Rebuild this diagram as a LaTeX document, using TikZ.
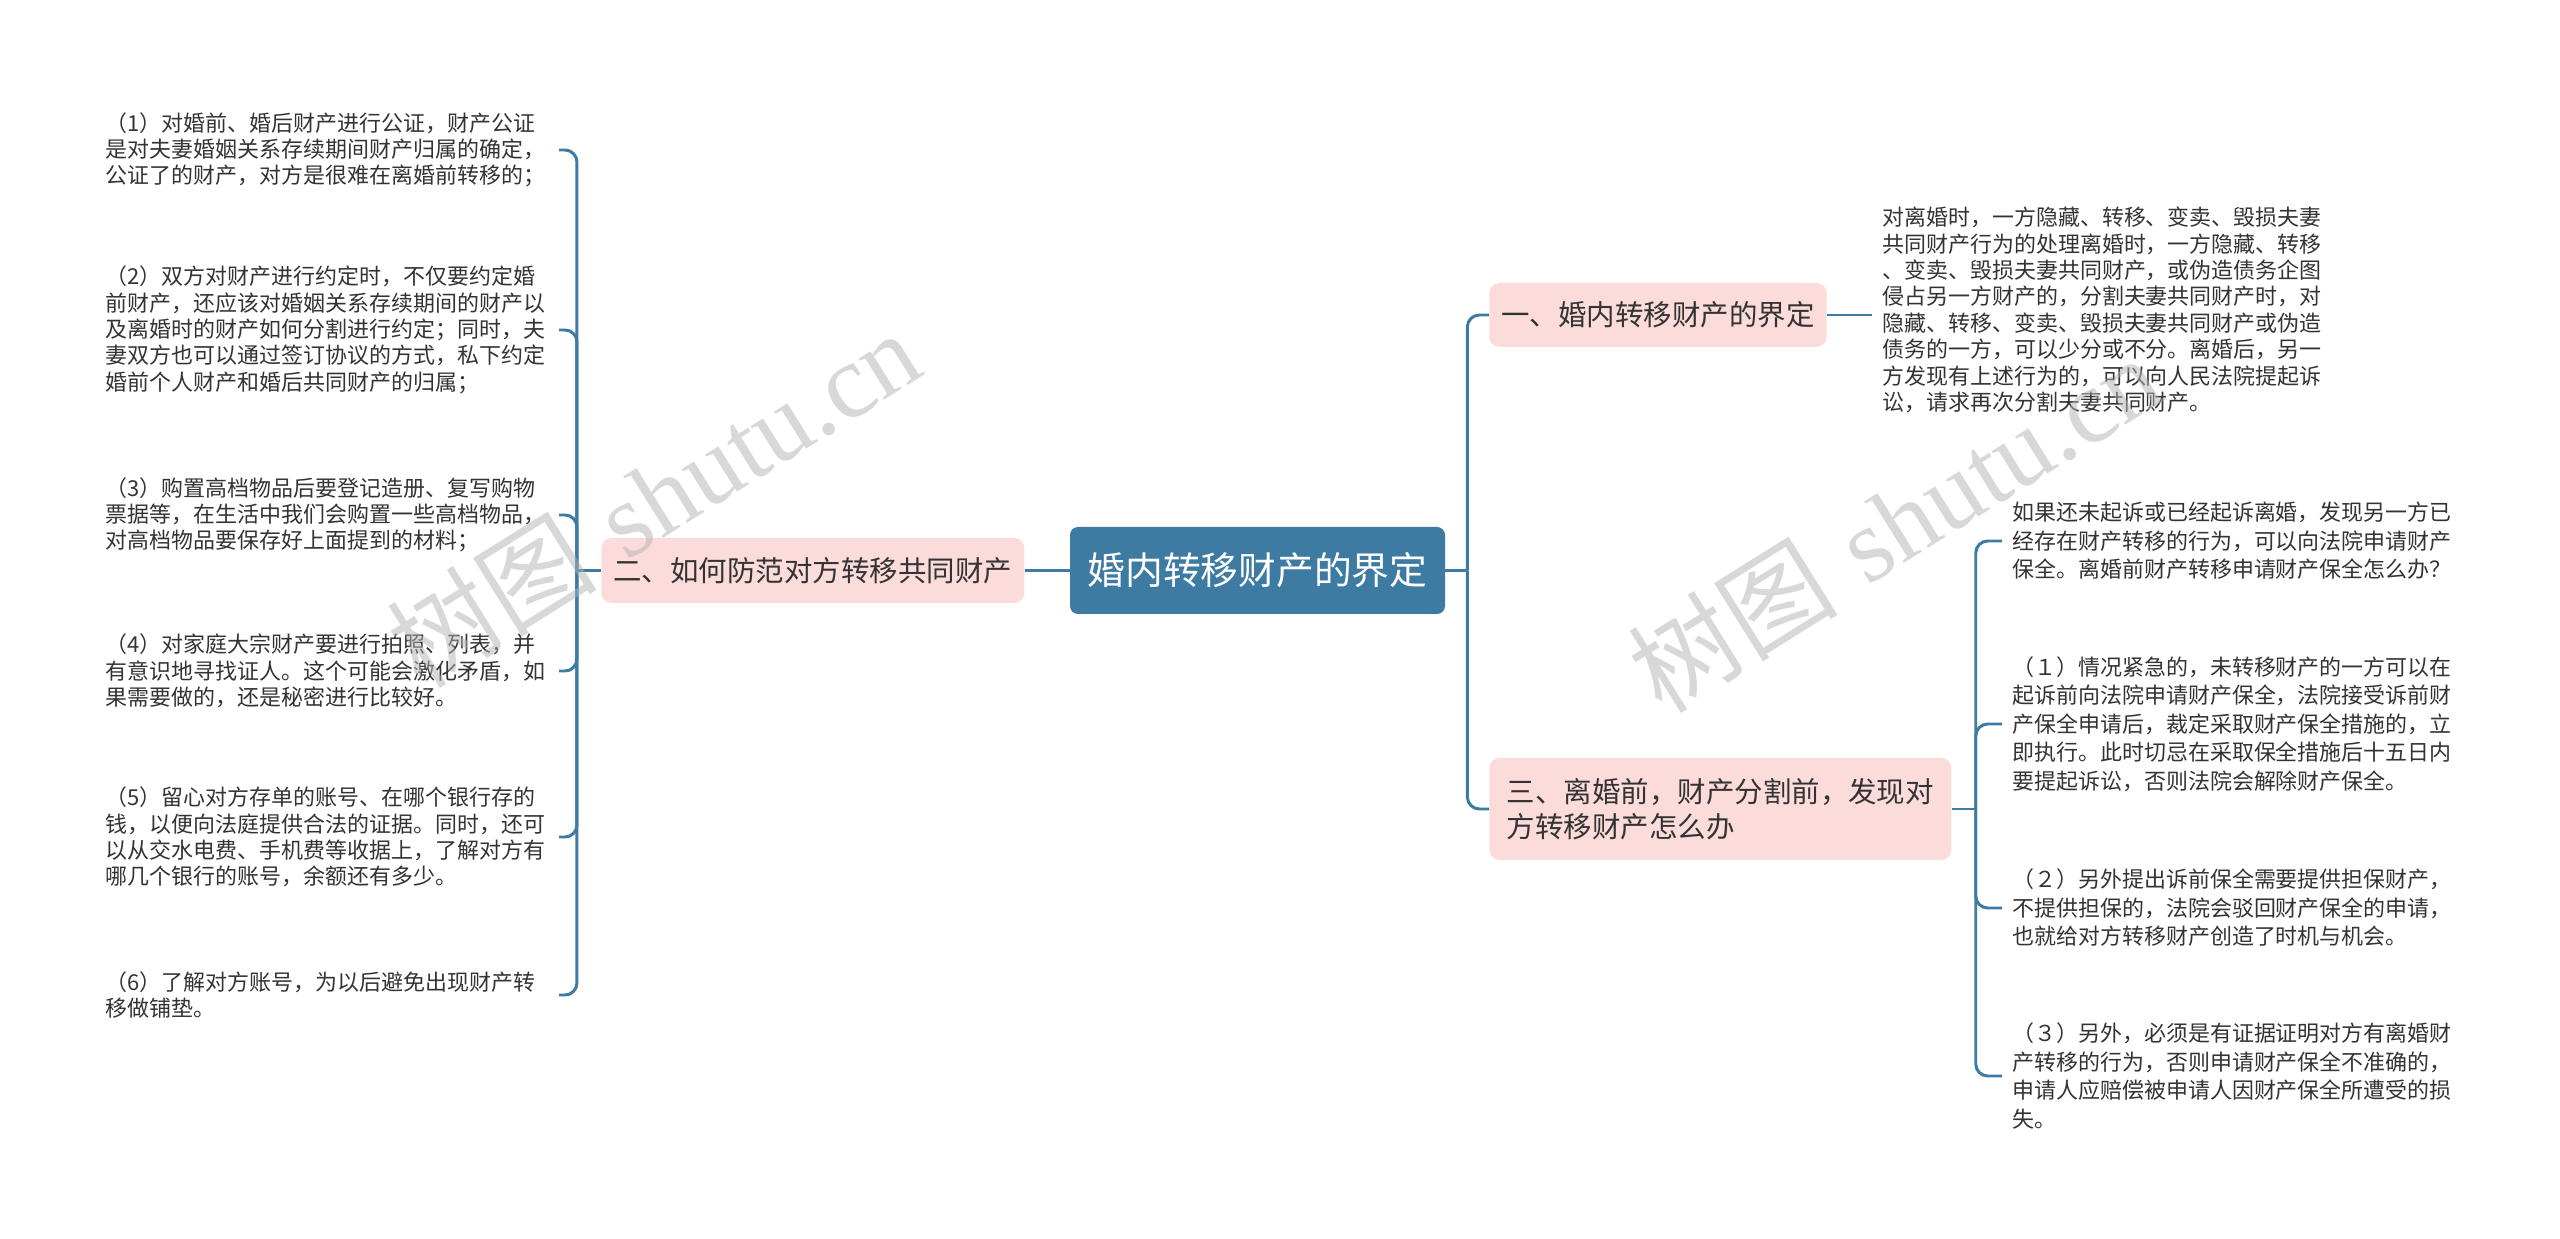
\documentclass[tikz,border=0pt]{standalone}
\usepackage{fontspec}
\newfontfamily\cjk{Noto Sans CJK SC}
\newfontfamily\wmlatin{Liberation Serif}
\usetikzlibrary{positioning}

\definecolor{mapblue}{HTML}{3D7BA3}
\definecolor{mappink}{HTML}{FBDCDB}
\definecolor{mapink}{HTML}{333333}

\tikzset{
  rootbox/.style={
    rectangle,
    rounded corners=1.6mm,
    fill=mapblue,
    text=white,
    font=\cjk\fontsize{21.5}{26}\selectfont,
    minimum width=75mm,
    minimum height=17.4mm,
  },
  topicbox/.style={
    rectangle,
    rounded corners=2mm,
    fill=mappink,
    text=mapink,
    font=\cjk\fontsize{16.2}{19.8}\selectfont,
    inner xsep=2.4mm,
    minimum height=13mm,
    align=left,
  },
  leaftext/.style={
    text=mapink,
    font=\cjk\fontsize{12.5}{15}\selectfont,
    text width=252pt,
    align=left,
    inner xsep=2mm,
    inner ysep=1mm,
  },
  leafwide/.style={
    leaftext,
    font=\cjk\fontsize{12.5}{16.2}\selectfont,
  },
  branchline/.style={
    draw=mapblue,
    line width=1.7pt,
    rounded corners=2.4mm,
  },
  wmark/.style={
    text=gray!60,
    opacity=0.5,
    rotate=32,
    font=\fontsize{60}{60}\selectfont,
  },
}

\begin{document}
\begin{tikzpicture}[x=0.2mm, y=-0.2mm]
  \fill[white] (0,0) rectangle (2560,1239);
  \useasboundingbox (0,0) rectangle (2560,1239);

  \node[rootbox] (root) at (1257.5,570.5) {婚内转移财产的界定};

  \node[topicbox, left=9mm of root, minimum width=84.6mm] (two) {二、如何防范对方转移共同财产};
  \node[topicbox, anchor=west, minimum height=12.8mm] (one) at (1489,315) {一、婚内转移财产的界定};
  \node[topicbox, anchor=west, inner xsep=3.5mm, minimum height=20.4mm] (three) at (1489,809)
    {三、离婚前，财产分割前，发现对\\方转移财产怎么办};

  % left leaves
  \node[leaftext, anchor=east] (la) at (559,150)
    {（1）对婚前、婚后财产进行公证，财产公证\\是对夫妻婚姻关系存续期间财产归属的确定，\\公证了的财产，对方是很难在离婚前转移的；};
  \node[leaftext, anchor=east] (lb) at (559,330)
    {（2）双方对财产进行约定时，不仅要约定婚\\前财产，还应该对婚姻关系存续期间的财产以\\及离婚时的财产如何分割进行约定；同时，夫\\妻双方也可以通过签订协议的方式，私下约定\\婚前个人财产和婚后共同财产的归属；};
  \node[leaftext, anchor=east] (lc) at (559,515)
    {（3）购置高档物品后要登记造册、复写购物\\票据等，在生活中我们会购置一些高档物品，\\对高档物品要保存好上面提到的材料；};
  \node[leaftext, anchor=east] (ld) at (559,671)
    {（4）对家庭大宗财产要进行拍照、列表，并\\有意识地寻找证人。这个可能会激化矛盾，如\\果需要做的，还是秘密进行比较好。};
  \node[leaftext, anchor=east] (le) at (559,837)
    {（5）留心对方存单的账号、在哪个银行存的\\钱，以便向法庭提供合法的证据。同时，还可\\以从交水电费、手机费等收据上，了解对方有\\哪几个银行的账号，余额还有多少。};
  \node[leaftext, anchor=east] (lf) at (559,995)
    {（6）了解对方账号，为以后避免出现财产转\\移做铺垫。};

  % right leaves
  \node[leaftext, anchor=west] (oa) at (1872,310)
    {对离婚时，一方隐藏、转移、变卖、毁损夫妻\\共同财产行为的处理离婚时，一方隐藏、转移\\、变卖、毁损夫妻共同财产，或伪造债务企图\\侵占另一方财产的，分割夫妻共同财产时，对\\隐藏、转移、变卖、毁损夫妻共同财产或伪造\\债务的一方，可以少分或不分。离婚后，另一\\方发现有上述行为的，可以向人民法院提起诉\\讼，请求再次分割夫妻共同财产。};
  \node[leafwide, anchor=west] (ta) at (2002,541)
    {如果还未起诉或已经起诉离婚，发现另一方已\\经存在财产转移的行为，可以向法院申请财产\\保全。离婚前财产转移申请财产保全怎么办？};
  \node[leafwide, anchor=west] (tb) at (2002,724)
    {（１）情况紧急的，未转移财产的一方可以在\\起诉前向法院申请财产保全，法院接受诉前财\\产保全申请后，裁定采取财产保全措施的，立\\即执行。此时切忌在采取保全措施后十五日内\\要提起诉讼，否则法院会解除财产保全。};
  \node[leafwide, anchor=west] (tc) at (2002,908)
    {（２）另外提出诉前保全需要提供担保财产，\\不提供担保的，法院会驳回财产保全的申请，\\也就给对方转移财产创造了时机与机会。};
  \node[leafwide, anchor=west] (td) at (2002,1076)
    {（３）另外，必须是有证据证明对方有离婚财\\产转移的行为，否则申请财产保全不准确的，\\申请人应赔偿被申请人因财产保全所遭受的损\\失。};

  \draw[branchline] (root.west) -- (two.east);
  \draw[branchline] (two.west) -- ++(-24,0) coordinate (lj);
  \foreach \leaf in {la,lb,lc,ld,le,lf}
    \draw[branchline] (lj) |- (\leaf.east);

  \draw[branchline] (root.east) -- ++(22,0) coordinate (rj);
  \draw[branchline] (rj) |- (one.west);
  \draw[branchline] (rj) |- (three.west);
  \draw[branchline] (one.east) -- (one.east -| oa.west);

  \draw[branchline] (three.east) -- ++(24,0) coordinate (tj);
  \foreach \leaf in {ta,tb,tc,td}
    \draw[branchline] (tj) |- (\leaf.west);

  \node[wmark] (wmleft) at (653,498) {{\cjk 树图} {\wmlatin shutu.cn}};
  \node[wmark] (wmright) at (1894,523) {{\cjk 树图} {\wmlatin shutu.cn}};
\end{tikzpicture}
\end{document}
